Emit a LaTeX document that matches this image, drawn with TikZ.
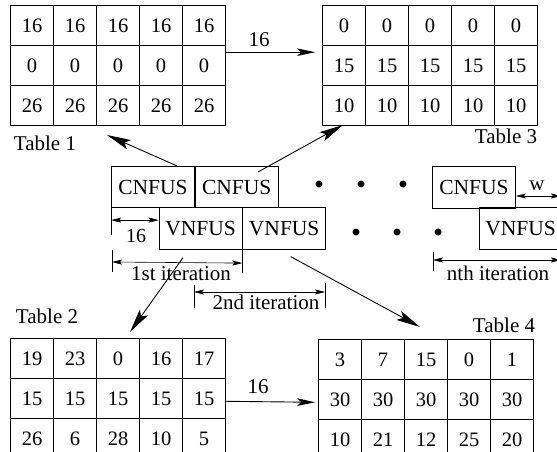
\documentclass[tikz,border=0pt]{standalone}
\usepackage{fontspec}
\setmainfont{Liberation Serif}
\usetikzlibrary{matrix,arrows.meta}
\begin{document}
\begin{tikzpicture}[x=1pt,y=-1pt,
  lbl/.style={font=\fontsize{21}{21}\selectfont, inner sep=0pt, anchor=base},
  tbl/.style={matrix of nodes, inner sep=0pt, column sep=-0.7pt, row sep=-0.7pt,
    anchor=north west,
    nodes={draw, line width=0.7pt, minimum width=43pt, minimum height=40pt,
      inner sep=0pt, font=\fontsize{20.5}{20.5}\selectfont}},
  fusbox/.style={draw, line width=0.7pt, minimum width=83pt, minimum height=41.5pt,
    inner sep=0pt, font=\fontsize{21.5}{21.5}\selectfont},
  bullet/.style={circle, fill, minimum size=7pt, inner sep=0pt},
  bigarrow/.style={line width=0.9pt, -{Stealth[length=24pt,width=10pt,inset=5pt]}},
  midarrow/.style={line width=0.9pt, -{Stealth[length=18pt,width=7.5pt,inset=4pt]}},
  dimline/.style={line width=0.6pt, {Stealth[length=10pt,width=5pt,inset=2pt]}-{Stealth[length=10pt,width=5pt,inset=2pt]}},
  tickline/.style={line width=0.6pt}
]
\useasboundingbox (0,0) rectangle (557,452);
\clip (0,0) rectangle (557,452);

% the four tables
\matrix (t1) [tbl] at (10,5) {
  16 & 16 & 16 & 16 & 16 \\
  0 & 0 & 0 & 0 & 0 \\
  26 & 26 & 26 & 26 & 26 \\
};
\matrix (t3) [tbl] at (322,5) {
  0 & 0 & 0 & 0 & 0 \\
  15 & 15 & 15 & 15 & 15 \\
  10 & 10 & 10 & 10 & 10 \\
};
\matrix (t2) [tbl] at (10,338) {
  19 & 23 & 0 & 16 & 17 \\
  15 & 15 & 15 & 15 & 15 \\
  26 & 6 & 28 & 10 & 5 \\
};
\matrix (t4) [tbl] at (318,339) {
  3 & 7 & 15 & 0 & 1 \\
  30 & 30 & 30 & 30 & 30 \\
  10 & 21 & 12 & 25 & 20 \\
};

% table captions
\node[lbl] (cap1) at (45,150) {Table 1};
\node[lbl] (cap3) at (506,143) {Table 3};
\node[lbl] (cap2) at (47,323) {Table 2};
\node[lbl] (cap4) at (504,332) {Table 4};

% arrows between tables
\draw[midarrow] ([yshift=-7pt]t1-2-5.north east) -- ([xshift=-7pt,yshift=-7pt]t3-2-1.north west);
\node[lbl] (w16a) at (259,47) {16};
\draw[midarrow] ([yshift=-23pt]t2-2-5.north east) -- ([xshift=-3pt,yshift=-23pt]t4-2-1.north west);
\node[lbl] (w16b) at (258,393) {16};

% fused units
\node[fusbox] (c1) at (153,187) {CNFUS};
\node[fusbox, anchor=west] (c2) at (c1.east) {CNFUS};
\node[fusbox] (v1) at (200.5,228.5) {VNFUS};
\node[fusbox, anchor=west] (v2) at (v1.east) {VNFUS};
\node[fusbox] (cn) at (474,187.5) {CNFUS};
\node[fusbox] (vn) at (520.5,228.5) {VNFUS};

% ellipsis dots
\node[bullet] (d1) at (319,184) {};
\node[bullet] (d2) at (361,184) {};
\node[bullet] (d3) at (403,184) {};
\node[bullet] (d4) at (356,232) {};
\node[bullet] (d5) at (397,232) {};
\node[bullet] (d6) at (438,232) {};

% arrows from the units to the tables
\coordinate (p1) at (107,135);
\coordinate (p3) at (343,125);
\coordinate (p2) at (130,332);
\coordinate (p4) at (420,327);
\draw[bigarrow] ([xshift=24pt]c1.north) -- (p1);
\draw[bigarrow] ([xshift=21.5pt,yshift=-6pt]c2.north) -- (p3);
\draw[bigarrow] ([xshift=-17.5pt,yshift=-8pt]v1.south) -- (p2);
\draw[bigarrow] ([xshift=6.5pt,yshift=-7pt]v2.south) -- (p4);

% offset of 16
\draw[tickline] (c1.south west) -- ++(0,27);
\draw[dimline] ([yshift=-12pt]c1.south west) -- ([yshift=-12pt]c1.south west -| v1.west);
\node[lbl, font=\fontsize{20}{20}\selectfont] (off16) at (136,242) {16};

% 1st iteration
\coordinate (i1a) at (112,250);
\draw[tickline] (i1a) -- ++(0,22);
\draw[tickline] (v1.south east) -- ++(0,23);
\draw[dimline] ([yshift=-12pt]i1a) -- ([yshift=-13.5pt]v1.south east);
\node[lbl] (it1) at (181,280) {1st iteration};

% 2nd iteration
\coordinate (i2a) at (194,285);
\coordinate (i2b) at (325,283);
\draw[tickline] (i2a) -- ++(0,23);
\draw[tickline] (i2b) -- ++(0,25);
\draw[dimline] ([yshift=-7pt]i2a) -- ([yshift=-9pt]i2b);
\node[lbl] (it2) at (266,309) {2nd iteration};

% nth iteration
\coordinate (ina) at (433,252);
\coordinate (inb) at (557,260);
\draw[tickline] (ina) -- ++(0,19);
\draw[dimline] ([yshift=-8pt]ina) -- ([xshift=4pt]inb);
\node[lbl] (itn) at (498,280) {nth iteration};

% width w
\coordinate (wend) at (561,196);
\draw[dimline] (cn.east |- wend) -- (wend);
\node[lbl] (wlab) at (537,190) {w};
\end{tikzpicture}
\end{document}
